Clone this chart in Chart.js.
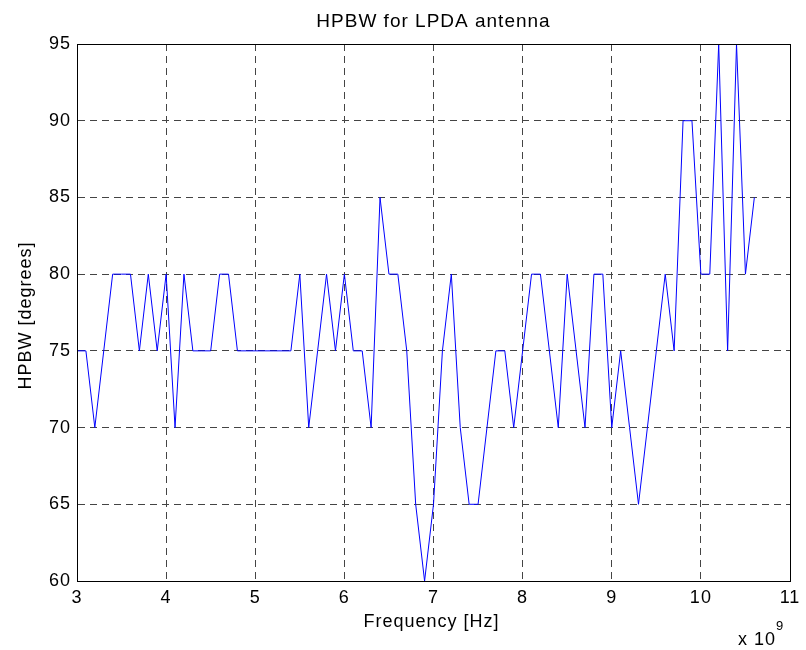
<!DOCTYPE html>
<html>
<head>
<meta charset="utf-8">
<script src="https://cdn.jsdelivr.net/npm/chart.js@4/dist/chart.umd.min.js"></script>
<style>
  html, body { margin: 0; padding: 0; background: #fff; }
  #wrap { width: 806px; height: 650px; }
</style>
</head>
<body>
<div id="wrap"><canvas id="c" width="806" height="650"></canvas></div>
<script>
// ---- data ----
const frequencyHz = [
  3.0e9, 3.1e9, 3.2e9, 3.3e9, 3.4e9, 3.5e9, 3.6e9, 3.7e9, 3.8e9, 3.9e9,
  4.0e9, 4.1e9, 4.2e9, 4.3e9, 4.4e9, 4.5e9, 4.6e9, 4.7e9, 4.8e9, 4.9e9,
  5.0e9, 5.1e9, 5.2e9, 5.3e9, 5.4e9, 5.5e9, 5.6e9, 5.7e9, 5.8e9, 5.9e9,
  6.0e9, 6.1e9, 6.2e9, 6.3e9, 6.4e9, 6.5e9, 6.6e9, 6.7e9, 6.8e9, 6.9e9,
  7.0e9, 7.1e9, 7.2e9, 7.3e9, 7.4e9, 7.5e9, 7.6e9, 7.7e9, 7.8e9, 7.9e9,
  8.0e9, 8.1e9, 8.2e9, 8.3e9, 8.4e9, 8.5e9, 8.6e9, 8.7e9, 8.8e9, 8.9e9,
  9.0e9, 9.1e9, 9.2e9, 9.3e9, 9.4e9, 9.5e9, 9.6e9, 9.7e9, 9.8e9, 9.9e9,
  10.0e9, 10.1e9, 10.2e9, 10.3e9, 10.4e9, 10.5e9, 10.6e9
];
const hpbwDegrees = [
  75, 75, 70, 75, 80, 80, 80, 75, 80, 75,
  80, 70, 80, 75, 75, 75, 80, 80, 75, 75,
  75, 75, 75, 75, 75, 80, 70, 75, 80, 75,
  80, 75, 75, 70, 85, 80, 80, 75, 65, 60,
  65, 75, 80, 70, 65, 65, 70, 75, 75, 70,
  75, 80, 80, 75, 70, 80, 75, 70, 80, 80,
  70, 75, 70, 65, 70, 75, 80, 75, 90, 90,
  80, 80, 95, 75, 95, 80, 85
];
const xTickValues = [3e9, 4e9, 5e9, 6e9, 7e9, 8e9, 9e9, 10e9, 11e9];
const xTickLabels = ['3', '4', '5', '6', '7', '8', '9', '10', '11'];
const yTickValues = [60, 65, 70, 75, 80, 85, 90, 95];
const yTickLabels = ['60', '65', '70', '75', '80', '85', '90', '95'];
const titleText = 'HPBW for LPDA antenna';
const xAxisTitle = 'Frequency [Hz]';
const yAxisTitle = 'HPBW [degrees]';
const xExponentBase = 'x 10';
const xExponent = '9';

// ---- chart ----
const FONT = '"Liberation Sans", Arial, Helvetica, sans-serif';
const points = frequencyHz.map((f, i) => ({ x: f, y: hpbwDegrees[i] }));

const textPlugin = {
  id: 'matlabText',
  beforeDraw(chart) {
    chart.ctx.letterSpacing = '1px';
  },
  afterDraw(chart) {
    const ctx = chart.ctx;
    const a = chart.chartArea;
    ctx.save();
    // full box (top & right solid edges)
    ctx.strokeStyle = '#000';
    ctx.lineWidth = 1;
    ctx.setLineDash([]);
    ctx.strokeRect(Math.round(a.left) + 0.5, Math.round(a.top) + 0.5,
                   Math.round(a.right - a.left) - 0, Math.round(a.bottom - a.top) - 0);
    ctx.fillStyle = '#000';
    ctx.letterSpacing = '1px';
    // title
    ctx.font = '19px ' + FONT;
    ctx.textAlign = 'center';
    ctx.textBaseline = 'alphabetic';
    ctx.fillText(titleText, (a.left + a.right) / 2, 27);
    // x axis title
    ctx.font = '18px ' + FONT;
    ctx.fillText(xAxisTitle, (a.left + a.right) / 2 - 2, 627);
    // y axis title
    ctx.save();
    ctx.translate(31, (a.top + a.bottom) / 2 + 3);
    ctx.rotate(-Math.PI / 2);
    ctx.fillText(yAxisTitle, 0, 0);
    ctx.restore();
    // exponent
    ctx.textAlign = 'left';
    ctx.font = '18px ' + FONT;
    ctx.fillText(xExponentBase, 738, 645);
    const w = ctx.measureText(xExponentBase).width;
    ctx.font = '13px ' + FONT;
    ctx.fillText(xExponent, 738 + w, 630);
    ctx.restore();
  }
};

new Chart(document.getElementById('c'), {
  type: 'line',
  data: {
    datasets: [{
      data: points,
      borderColor: '#0000ff',
      backgroundColor: '#0000ff',
      borderWidth: 1,
      pointRadius: 0,
      tension: 0,
      fill: false
    }]
  },
  options: {
    responsive: false,
    animation: false,
    devicePixelRatio: 1,
    layout: { padding: { top: 44, right: 16, left: 0, bottom: 0 } },
    plugins: { legend: { display: false }, title: { display: false }, tooltip: { enabled: false } },
    scales: {
      x: {
        type: 'linear',
        min: 3e9, max: 11e9,
        afterFit(s) { s.height = 69; },
        afterBuildTicks(s) { s.ticks = xTickValues.map(v => ({ value: v })); },
        ticks: {
          color: '#000',
          font: { family: FONT, size: 18 },
          padding: 6,
          maxRotation: 0,
          autoSkip: false,
          callback: (v) => xTickLabels[xTickValues.indexOf(v)]
        },
        grid: { color: '#444', lineWidth: 1, drawTicks: false },
        border: { display: true, color: '#000', width: 1, dash: [7, 5] }
      },
      y: {
        type: 'linear',
        min: 60, max: 95,
        afterFit(s) { s.width = 77; },
        afterBuildTicks(s) { s.ticks = yTickValues.map(v => ({ value: v })); },
        ticks: {
          color: '#000',
          font: { family: FONT, size: 18 },
          padding: 6,
          autoSkip: false,
          callback: (v) => yTickLabels[yTickValues.indexOf(v)]
        },
        grid: { color: '#444', lineWidth: 1, drawTicks: false },
        border: { display: true, color: '#000', width: 1, dash: [7, 5] }
      }
    }
  },
  plugins: [textPlugin]
});
</script>
</body>
</html>
